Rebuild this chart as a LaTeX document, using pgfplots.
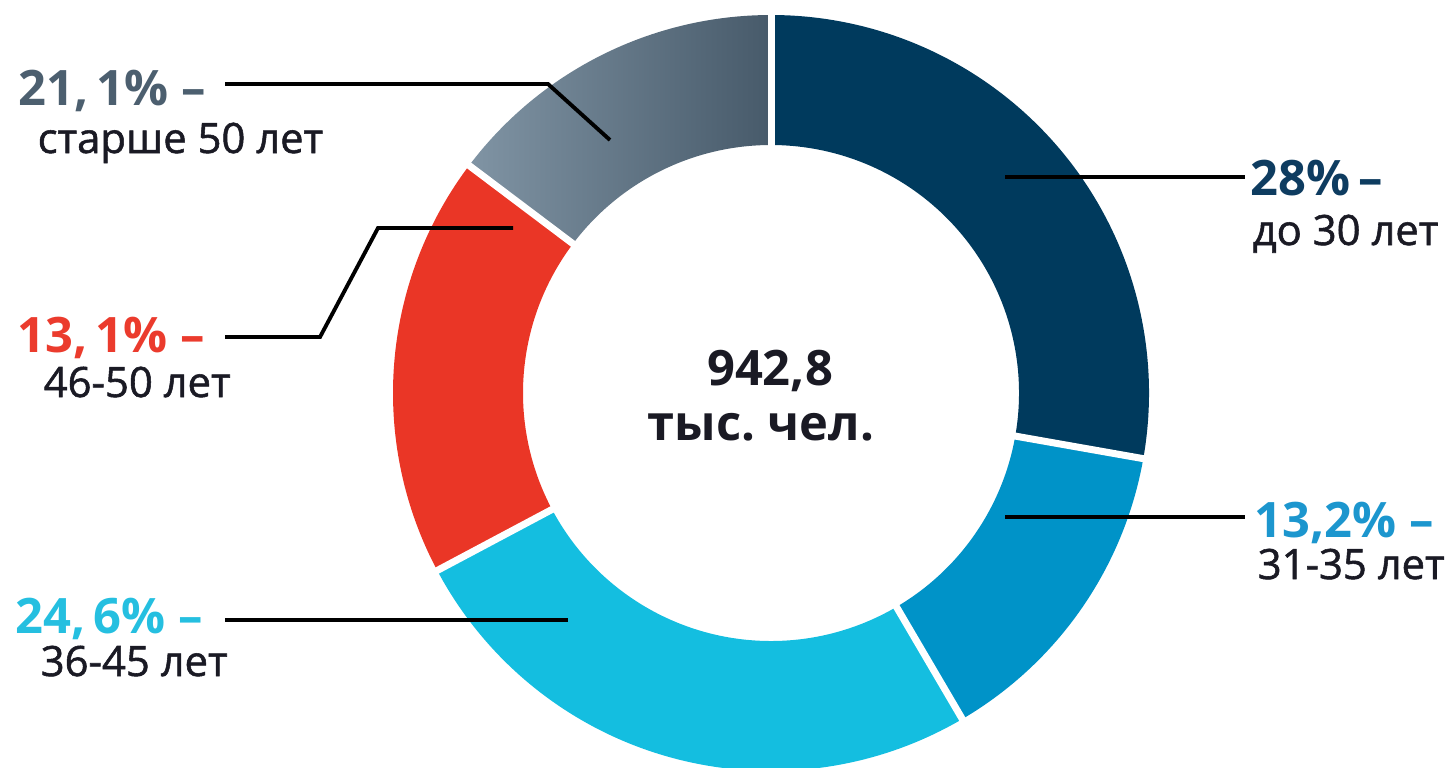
\documentclass[border=0pt]{standalone}
\usepackage{pgfplots}
\pgfplotsset{compat=1.18}
\usepackage{fontspec}
\setmainfont{Open Sans}
\newfontfamily\dscfont[FakeBold=1.3]{Open Sans}
\usetikzlibrary{calc}

\definecolor{cnavy}{HTML}{003A5D}
\definecolor{cblue}{HTML}{0093C8}
\definecolor{ccyan}{HTML}{14BEE0}
\definecolor{cred}{HTML}{EA3626}
\definecolor{cgreyL}{HTML}{8094A4}
\definecolor{cgreyR}{HTML}{475A6A}
\definecolor{tslate}{HTML}{4C5F6F}
\definecolor{tnavy}{HTML}{0E3C60}
\definecolor{tred}{HTML}{EB3B2D}
\definecolor{tblue}{HTML}{1C96CE}
\definecolor{tcyan}{HTML}{25BFE0}
\definecolor{tdark}{HTML}{1A1A24}

% boundary angles of the drawn segments (degrees, as drawn in the picture)
% navy: 90 -> -10 ; blue: -10 -> -59.6 ; cyan: -59.6 -> -152 ; red: -152 -> -217 ; grey: 143 -> 90
\newcommand{\ring}[3]{%
  \path[#3] ($(C)+(#1:3.78cm)$) arc[start angle=#1,end angle=#2,radius=3.78cm]
     -- ($(C)+(#2:2.48cm)$) arc[start angle=#2,end angle=#1,radius=2.48cm] -- cycle;}
\newcommand{\gap}[1]{%
  \draw[white,line width=0.07cm] ($(C)+(#1:2.3cm)$) -- ($(C)+(#1:3.95cm)$);}

\newcommand{\pct}{\fontsize{13.9}{16}\selectfont\bfseries}
\newcommand{\dsc}{\dscfont\fontsize{11.9}{14}\selectfont}

\begin{document}
\begin{tikzpicture}
\begin{axis}[
  width=14.53cm, height=7.67cm, scale only axis,
  xmin=0, xmax=1453, ymin=0, ymax=767, y dir=reverse,
  hide axis, clip=false]

\coordinate (C) at (axis cs:771,393);
\ring{90}{-10}{fill=cnavy}
\ring{-10}{-59.6}{fill=cblue}
\ring{-59.6}{-152}{fill=ccyan}
\ring{-152}{-217}{fill=cred}
\ring{143}{90}{left color=cgreyL,right color=cgreyR}
\gap{90}\gap{-10}\gap{-59.6}\gap{-152}\gap{143}

% leader lines
\addplot[black,line width=1.1pt] coordinates {(225,84) (548,84) (610,140)};
\addplot[black,line width=1.1pt] coordinates {(1005,177) (1245,177)};
\addplot[black,line width=1.1pt] coordinates {(225,337) (320,337) (378,228) (513,228)};
\addplot[black,line width=1.1pt] coordinates {(1005,517) (1245,517)};
\addplot[black,line width=1.1pt] coordinates {(225,620) (568,620)};

% labels
\node[anchor=base west,inner sep=0,text=tslate] at (axis cs:18,105) {\pct 21,\,1\% –};
\node[anchor=base west,inner sep=0,text=tdark] at (axis cs:37,153) {\dsc старше 50 лет};
\node[anchor=base west,inner sep=0,text=tnavy] at (axis cs:1250,195) {\pct 28\%\,–};
\node[anchor=base west,inner sep=0,text=tdark] at (axis cs:1252,245) {\dsc до 30 лет};
\node[anchor=base west,inner sep=0,text=tred] at (axis cs:17,352) {\pct 13,\,1\% –};
\node[anchor=base west,inner sep=0,text=tdark] at (axis cs:43,397) {\dsc 46-50 лет};
\node[anchor=base west,inner sep=0,text=tblue] at (axis cs:1254,537) {\pct 13,2\% –};
\node[anchor=base west,inner sep=0,text=tdark] at (axis cs:1257,579) {\dsc 31-35 лет};
\node[anchor=base west,inner sep=0,text=tcyan] at (axis cs:15,633) {\pct 24,\,6\% –};
\node[anchor=base west,inner sep=0,text=tdark] at (axis cs:40,676) {\dsc 36-45 лет};

\node[anchor=base,inner sep=0,text=tdark] at (axis cs:770,385) {\pct 942,8};
\node[anchor=base,inner sep=0,text=tdark] at (axis cs:761,440) {\pct тыс.~чел.};
\end{axis}
\pgfresetboundingbox
\useasboundingbox (0,0) rectangle (14.53cm,7.67cm);
\end{tikzpicture}
\end{document}
